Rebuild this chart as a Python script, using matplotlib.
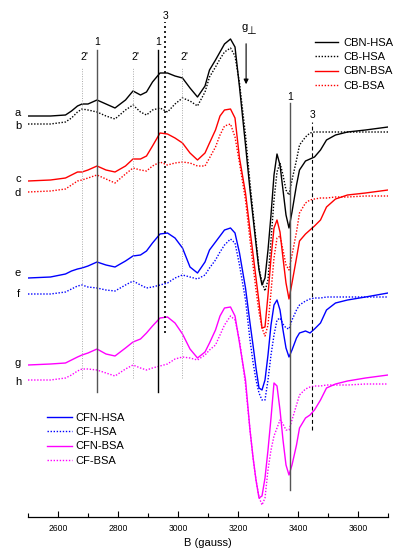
from matplotlib import pyplot as plt
from matplotlib.ticker import MultipleLocator

plt.rcParams['font.family'] = ['Liberation Sans', 'DejaVu Sans']

# magnetic field (gauss), shared by all spectra
field = [2500, 2575, 2625, 2645, 2665, 2680, 2700, 2730, 2760, 2790,
         2825, 2850, 2875, 2895, 2915, 2940, 2965, 2990, 3015, 3040,
         3065, 3090, 3105, 3125, 3140, 3155, 3175, 3190, 3205, 3225,
         3240, 3250, 3260, 3270, 3280, 3290, 3300, 3310, 3320, 3330,
         3340, 3350, 3360, 3370, 3380, 3395, 3405, 3425, 3440, 3455,
         3475, 3495, 3525, 3565, 3625, 3700]

# first-derivative EPR signal (a.u.), one list per sample
cbn_hsa = [0, 0, 1, 5, 10, 12, 12, 16, 12, 8, 16, 25, 21, 24, 34, 43, 43, 40, 38, 28,
           19, 30, 46, 56, 64, 72, 77, 69, 29, -29, -74, -101, -128, -154, -169, -162,
           -134, -99, -59, -38, -49, -74, -99, -112, -96, -69, -54, -45, -43, -41, -34,
           -24, -19, -16, -14, -11]
cb_hsa = [0, 0, 2, 6, 12, 15, 14, 12, 8, 5, 14, 19, 12, 9, 14, 16, 12, 20, 26, 23,
          18, 32, 47, 57, 65, 72, 76, 68, 41, -11, -59, -88, -116, -144, -158, -167,
          -156, -116, -76, -48, -39, -51, -66, -71, -56, -36, -21, -13, -9, -8, -8,
          -8, -8, -8, -8, -8]
cbn_bsa = [0, 1, 3, 6, 9, 9, 11, 15, 11, 9, 15, 22, 22, 25, 35, 48, 47, 43, 38, 28,
           21, 28, 38, 51, 65, 71, 72, 63, 23, -12, -49, -73, -97, -121, -147, -146,
           -114, -77, -47, -39, -51, -77, -102, -118, -102, -77, -60, -53, -49, -45,
           -39, -26, -18, -14, -12, -9]
cb_bsa = [0, 1, 3, 7, 11, 12, 14, 17, 13, 9, 18, 24, 22, 21, 26, 30, 27, 29, 30, 29,
          26, 26, 34, 45, 57, 66, 68, 55, 29, -8, -48, -73, -98, -120, -136, -144,
          -133, -100, -66, -46, -44, -58, -73, -78, -63, -40, -21, -11, -8, -7, -6,
          -6, -5, -5, -4, -4]
cfn_hsa = [0, 1, 4, 7, 9, 10, 12, 16, 13, 11, 17, 22, 23, 27, 35, 44, 45, 40, 30, 11,
           5, 16, 28, 36, 42, 48, 50, 45, 25, -10, -45, -67, -90, -110, -112, -102,
           -77, -47, -27, -22, -32, -52, -70, -79, -72, -60, -55, -53, -55, -51, -45,
           -32, -25, -22, -19, -15]
cf_hsa = [0, 0, 2, 5, 8, 9, 7, 6, 4, 3, 9, 13, 9, 6, 7, 9, 11, 16, 19, 17,
          15, 19, 26, 34, 42, 49, 55, 51, 29, -6, -46, -68, -86, -99, -106, -106,
          -86, -61, -41, -26, -24, -30, -34, -35, -26, -16, -11, -7, -5, -4, -4,
          -3, -3, -3, -3, -3]
cfn_bsa = [0, 1, 2, 5, 8, 10, 12, 16, 11, 9, 17, 23, 26, 32, 39, 47, 48, 42, 31, 16,
           7, 13, 22, 35, 49, 57, 58, 49, 22, -15, -65, -92, -115, -133, -131, -113,
           -85, -53, -18, -21, -45, -75, -100, -110, -100, -80, -63, -53, -50, -45,
           -35, -23, -19, -16, -13, -10]
cf_bsa = [0, 0, 2, 5, 9, 11, 11, 10, 7, 4, 11, 15, 12, 10, 12, 14, 16, 21, 23, 22,
          20, 25, 30, 35, 45, 55, 64, 60, 40, -5, -50, -78, -100, -117, -125, -118,
          -90, -70, -56, -48, -40, -44, -50, -50, -40, -25, -15, -9, -7, -6, -6,
          -5, -5, -5, -4, -4]

names = ['CBN-HSA', 'CB-HSA', 'CBN-BSA', 'CB-BSA', 'CFN-HSA', 'CF-HSA', 'CFN-BSA', 'CF-BSA']
letters = ['a', 'b', 'c', 'd', 'e', 'f', 'g', 'h']
spectra = [cbn_hsa, cb_hsa, cbn_bsa, cb_bsa, cfn_hsa, cf_hsa, cfn_bsa, cf_bsa]
offsets = [401, 393, 336, 325, 239, 223, 152, 137]
letter_y = [404, 391, 338, 324, 244, 223, 154, 135]

# marker lines (gauss)
pos_1 = [2730, 2933, 3373]
pos_3 = [2957, 3447]
pos_2p = [2680, 2850, 3013]
g_perp = 3227

colors = ['black', 'black', 'red', 'red', 'blue', 'blue', 'magenta', 'magenta']
dotted = (0, (1, 1.2))

fig = plt.figure(figsize=(3.93, 5.51), dpi=100)
ax = fig.add_axes([28 / 393, 34 / 551, 360 / 393, 517 / 551])

lines = []
for i, spec in enumerate(spectra):
    style = '-' if i % 2 == 0 else dotted
    y = [v + offsets[i] for v in spec]
    ln, = ax.plot(field, y, color=colors[i], linestyle=style, lw=1.0, label=names[i],
                  solid_joinstyle='round', dash_joinstyle='round')
    lines.append(ln)
    ax.text(2467, letter_y[i], letters[i], fontsize=8, ha='center', va='center', clip_on=False)

# 2' positions
for x in pos_2p:
    ax.plot([x, x], [139, 450], color='#aaaaaa', lw=0.7, linestyle=(0, (1, 1.5)))
    ax.text(x + 8, 460, "2'", fontsize=7.5, ha='center', va='center')

# line 1 markers
ax.plot([pos_1[0], pos_1[0]], [125, 467], color='#555555', lw=1.0)
ax.plot([pos_1[1], pos_1[1]], [125, 467], color='black', lw=1.0)
ax.plot([pos_1[2], pos_1[2]], [27, 414], color='#555555', lw=1.0)
ax.text(pos_1[0], 475, '1', fontsize=7.5, ha='center', va='center')
ax.text(pos_1[1], 475, '1', fontsize=7.5, ha='center', va='center')
ax.text(pos_1[2], 420, '1', fontsize=7.5, ha='center', va='center')

# line 3 markers
ax.plot([pos_3[0], pos_3[0]], [184, 495], color='black', lw=1.2, linestyle=(0, (1.2, 1.8)))
ax.plot([pos_3[1], pos_3[1]], [87, 395], color='black', lw=0.8, linestyle=(0, (3.5, 2.5)))
ax.text(pos_3[0], 501, '3', fontsize=7.5, ha='center', va='center')
ax.text(pos_3[1], 402, '3', fontsize=7.5, ha='center', va='center')

# g perpendicular arrow
ax.annotate('', xy=(g_perp, 430), xytext=(g_perp, 476),
            arrowprops=dict(arrowstyle='-|>', color='black', lw=0.8, mutation_scale=7))
ax.text(g_perp - 5, 490, 'g', fontsize=8, ha='center', va='center')
ax.text(g_perp + 17, 486, '\u22a5', fontsize=8, ha='center', va='center')

ax.set_xlim(2500, 3700)
ax.set_ylim(0, 517)
ax.xaxis.set_major_locator(MultipleLocator(200))
ax.xaxis.set_minor_locator(MultipleLocator(100))
ax.tick_params(axis='x', which='major', direction='in', length=4, width=0.8, labelsize=6.2, pad=5)
ax.tick_params(axis='x', which='minor', direction='in', length=3, width=0.8)
ax.set_yticks([])
for side in ['left', 'right', 'top']:
    ax.spines[side].set_visible(False)
ax.spines['bottom'].set_linewidth(0.9)
ax.set_xlabel('B (gauss)', fontsize=8, labelpad=4)

fig.legend(handles=lines[:4], loc='upper left', bbox_to_anchor=(315 / 393, 1 - 38 / 551),
           frameon=False, fontsize=8, handlelength=2.1, handletextpad=0.45,
           labelspacing=0.38, borderpad=0, borderaxespad=0)
fig.legend(handles=lines[4:], loc='upper left', bbox_to_anchor=(47 / 393, 1 - 413 / 551),
           frameon=False, fontsize=8, handlelength=2.25, handletextpad=0.3,
           labelspacing=0.38, borderpad=0, borderaxespad=0)

plt.savefig('out.png', dpi=100)
